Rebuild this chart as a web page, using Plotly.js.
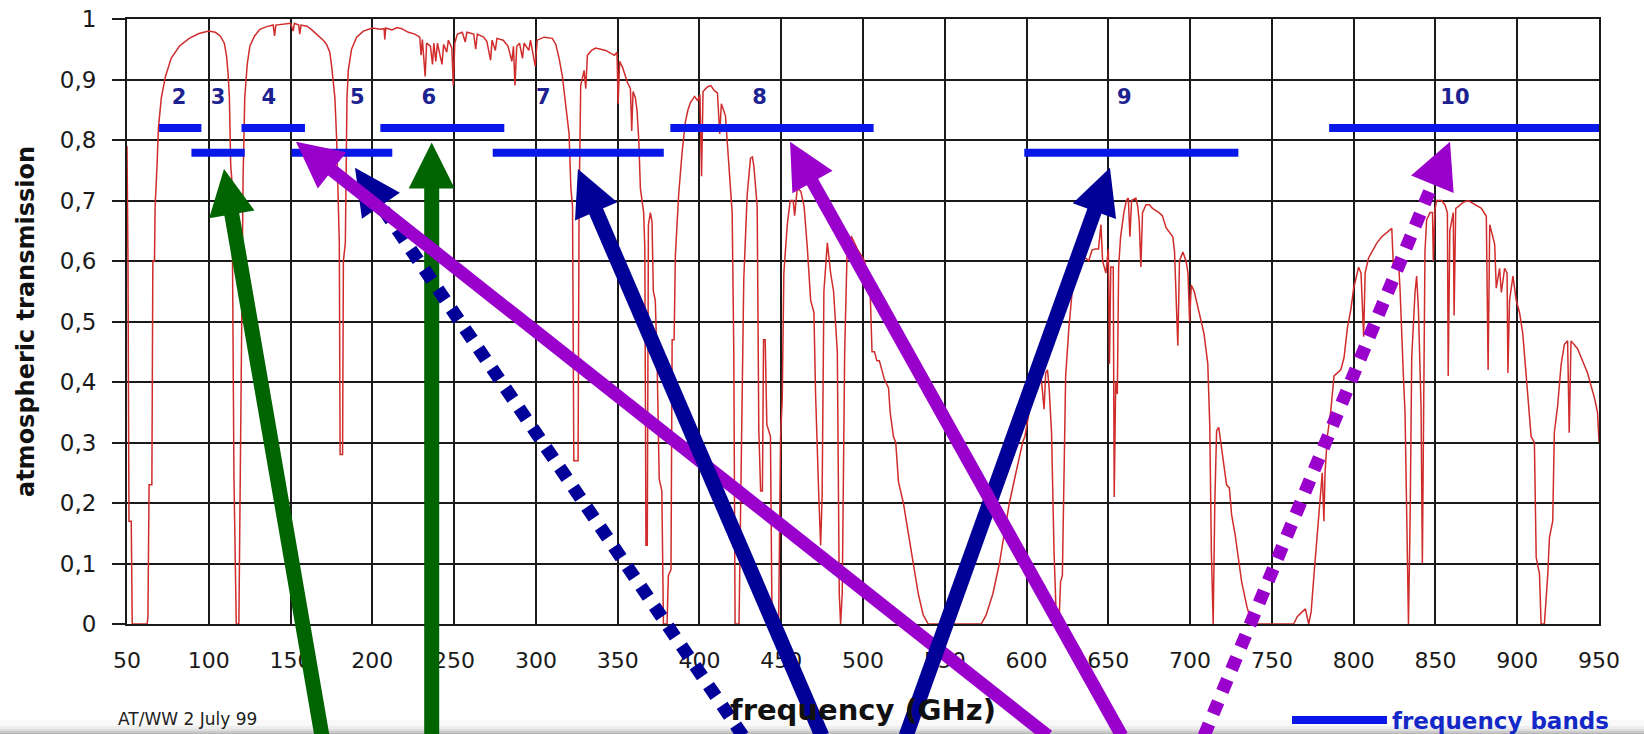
<!DOCTYPE html>
<html>
<head>
<meta charset="utf-8">
<script src="https://cdn.plot.ly/plotly-3.0.1.min.js"></script>
<style>
html,body{margin:0;padding:0;background:#fff;}
#chart{width:1644px;height:734px;}
</style>
</head>
<body>
<div id="chart"></div>
<script>
// ---------------- DATA ----------------
// Atmospheric transmission spectrum, [frequency GHz, transmission]
const spectrum50to200 = [
  [50,0.79],[50.6,0.60],[51.2,0.17],[52.6,0.17],[53.2,0.0],[62.3,0.0],[62.8,0.012],[63.5,0.23],[65.2,0.23],[65.8,0.60],
  [66.8,0.60],[67.2,0.69],[68.4,0.76],[69.2,0.82],[71,0.87],[73.5,0.905],[77,0.935],[82,0.955],[88,0.968],[94,0.976],
  [100,0.98],[104,0.978],[107,0.972],[109.5,0.96],[110.8,0.94],[111.8,0.91],[112.6,0.87],[113.4,0.76],[114.2,0.73],[115.4,0.24],
  [116.4,0.07],[116.8,0.0],[118.4,0.0],[119.2,0.25],[120.2,0.6],[121,0.74],[122,0.87],[123.5,0.925],[125.1,0.955],[128,0.972],
  [131.2,0.983],[135,0.987],[139.4,0.99],[140.2,0.972],[141,0.99],[146,0.992],[150,0.993],[151.6,0.98],[152.4,0.993],[155,0.99],
  [155.6,0.975],[156.4,0.99],[160,0.988],[163,0.982],[166,0.975],[168,0.97],[170,0.965],[172,0.958],[174,0.945],[175.2,0.92],
  [176.2,0.89],[177.1,0.87],[178.2,0.8],[179.2,0.68],[179.8,0.63],[180.3,0.28],[181.8,0.28],[182.3,0.6],[183.5,0.63],[184.5,0.87],
  [185.3,0.915],[187.3,0.95],[190.4,0.97],[194.5,0.98]
];
const spectrum200to350 = [
  [200,0.985],[205,0.983],[207.2,0.984],[207.6,0.966],[208.2,0.985],[212,0.982],[215,0.986],[218,0.984],[222,0.978],[226,0.975],
  [229,0.97],[229.8,0.94],[230.6,0.966],[232.3,0.905],[233.2,0.96],[235.5,0.955],[236.8,0.925],[237.6,0.96],[238.8,0.93],[239.8,0.96],
  [241.5,0.94],[242.6,0.925],[243.6,0.958],[245.5,0.945],[246.5,0.965],[248.6,0.952],[249.5,0.89],[250.4,0.96],[252,0.975],[255,0.978],
  [256.8,0.962],[257.8,0.978],[262,0.975],[263.2,0.95],[264.2,0.975],[268,0.97],[270,0.963],[272.3,0.932],[273.2,0.965],[275.2,0.948],
  [276.2,0.968],[280,0.965],[283,0.955],[285.3,0.93],[286.3,0.955],[287.2,0.89],[288.3,0.955],[290,0.96],[291.8,0.935],[292.8,0.96],
  [295.7,0.948],[296.7,0.965],[299.6,0.922],[300.8,0.965],[305,0.97],[310,0.968],[312.2,0.958],[314.2,0.935],[316.2,0.905],[318.3,0.86],
  [319.4,0.83],[320.3,0.81],[321.4,0.72],[322.4,0.69],[323.2,0.27],[325.8,0.27],[326.4,0.69],[327.4,0.89],[329.5,0.915],[330.5,0.885],
  [331.5,0.94],[334,0.948],[336.6,0.952],[342.7,0.948],[348,0.94]
];
const spectrum350to500 = [
  [349.6,0.945],[350.3,0.86],[351.2,0.93],[353,0.92],[354.7,0.905],[356,0.895],[357.8,0.885],[358.6,0.815],[359.4,0.88],[360.8,0.87],
  [361.8,0.85],[362.9,0.80],[363.9,0.72],[365,0.70],[365.9,0.68],[366.6,0.62],[367.3,0.13],[368.1,0.13],[368.8,0.66],[370,0.68],
  [371,0.665],[371.8,0.55],[373,0.535],[374.2,0.42],[375.4,0.24],[377,0.22],[378,0.0],[380.2,0.0],[381,0.08],[382.6,0.09],
  [383.3,0.47],[384.5,0.47],[385.3,0.61],[387.3,0.71],[389.4,0.78],[391.4,0.83],[393,0.85],[394.5,0.862],[397,0.872],[399,0.865],
  [400.3,0.875],[401.3,0.74],[402.2,0.88],[405,0.888],[407,0.89],[409,0.882],[411,0.878],[412.4,0.81],[413.4,0.86],[415.9,0.84],
  [418,0.76],[420,0.68],[421,0.45],[421.8,0.0],[424.2,0.0],[425.8,0.35],[427.1,0.57],[429.2,0.71],[431.2,0.77],[432.4,0.772],
  [433.3,0.756],[435.3,0.69],[436.3,0.32],[437.4,0.22],[438.5,0.22],[439.2,0.47],[440.2,0.47],[441.2,0.33],[443.4,0.31],[444.4,0.0],
  [448.4,0.0],[449.6,0.31],[450.6,0.37],[451.6,0.58],[453.7,0.66],[455.5,0.70],[457.3,0.70],[458.2,0.675],[459.8,0.72],[462,0.715],
  [464,0.69],[466,0.62],[468,0.535],[470,0.515],[471,0.38],[473,0.21],[474.1,0.13],[475,0.21],[476.1,0.55],[478.2,0.63],
  [480.2,0.58],[482,0.55],[484.3,0.45],[485.5,0.05],[486.3,0.0],[487.3,0.05],[488.8,0.45],[490.4,0.63],[493,0.64]
];
const spectrum500to650 = [
  [496.5,0.62],[499,0.61],[501,0.6],[503,0.57],[504.5,0.54],[505.5,0.45],[507,0.45],[508.5,0.435],[510,0.435],[511.5,0.42],
  [513,0.405],[515.6,0.39],[516.6,0.35],[518.6,0.31],[520,0.3],[521.7,0.235],[523.5,0.215],[524.7,0.2],[526.5,0.17],[528,0.145],
  [530.8,0.1],[533.8,0.05],[536.8,0.015],[539.9,0.0],[572.3,0.0],[575.3,0.015],[579.4,0.05],[583.4,0.1],[586.4,0.15],[589.5,0.2],
  [593.5,0.25],[595.5,0.272],[597.6,0.3],[599,0.31],[601.6,0.35],[603.5,0.38],[605.7,0.40],[607.5,0.41],[608.7,0.415],[609.7,0.385],
  [610.7,0.355],[611.7,0.415],[612.8,0.42],[613.8,0.39],[615.3,0.315],[616.8,0.12],[618.3,0.0],[619.8,0.0],[620.8,0.07],[621.9,0.08],
  [622.9,0.25],[623.9,0.41],[625.9,0.49],[627.9,0.55],[630,0.575],[632,0.585],[634,0.6],[636,0.605],[638,0.6],[640,0.618],
  [642.1,0.62],[644,0.62],[645.5,0.66],[646.5,0.6],[648.5,0.58],[650,0.62]
];
const spectrum650to800 = [
  [650.7,0.43],[651.5,0.59],[653,0.59],[653.6,0.21],[654.5,0.4],[655.5,0.38],[656.3,0.59],[657.5,0.64],[659.5,0.68],[661,0.70],
  [662.2,0.704],[663.2,0.64],[664.2,0.70],[666.8,0.704],[668,0.69],[668.9,0.665],[669.9,0.59],[670.9,0.68],[673,0.693],[675,0.693],
  [677,0.687],[681,0.68],[683,0.675],[685.3,0.655],[689.4,0.64],[690.5,0.615],[691.5,0.535],[692.5,0.46],[693.5,0.60],[695.6,0.615],
  [697.5,0.60],[698.7,0.58],[699.7,0.50],[700.7,0.56],[702.5,0.55],[705.9,0.51],[708.5,0.48],[710.8,0.43],[712,0.33],[713,0.12],
  [714.1,0.0],[715.1,0.2],[716.2,0.32],[717.5,0.325],[719.2,0.29],[722.3,0.23],[724,0.225],[725.4,0.18],[727.4,0.15],[729.5,0.11],
  [731.5,0.07],[734.6,0.03],[737.7,0.0],[763.3,0.0],[765.5,0.012],[768.5,0.02],[770.5,0.025],[772.5,0.0],[774,0.02],[775.7,0.08],
  [777.7,0.15],[779.8,0.21],[780.8,0.25],[781.8,0.17],[782.5,0.25],[783.9,0.31],[785.9,0.35],[788,0.41],[790,0.415],[792.1,0.42],
  [794.1,0.44],[796.2,0.49],[798.3,0.52]
];
const spectrum800to950 = [
  [800,0.555],[803,0.59],[804.5,0.58],[806.1,0.475],[807,0.58],[809.1,0.605],[811.2,0.615],[814.2,0.63],[817.2,0.64],[821.3,0.65],
  [823.3,0.654],[824.3,0.59],[826,0.6],[827.4,0.602],[828.4,0.55],[830.4,0.41],[831.4,0.35],[832.5,0.17],[833.5,0.0],[834.5,0.17],
  [835.5,0.44],[837.5,0.548],[838.5,0.575],[839.6,0.52],[841.2,0.36],[842,0.10],[842.6,0.36],[843.6,0.615],[844.6,0.668],[846.7,0.68],
  [848.2,0.68],[848.7,0.60],[849.7,0.685],[850.7,0.70],[853.8,0.70],[855.8,0.693],[857.3,0.68],[857.8,0.41],[858.8,0.65],[860.9,0.68],
  [861.4,0.51],[862.4,0.687],[863.9,0.69],[866.9,0.697],[870,0.70],[874,0.693],[878.1,0.687],[881.1,0.674],[882.2,0.42],[883.2,0.66],
  [886.2,0.628],[887.2,0.555],[889.2,0.588],[890.3,0.548],[892.3,0.588],[893.8,0.58],[894.3,0.415],[895.3,0.535],[897.4,0.575],[899.4,0.535],
  [901.4,0.515],[903.4,0.48],[905.5,0.415],[907.5,0.35],[908.5,0.31],[910.5,0.30],[911.6,0.11],[913.6,0.083],[914.6,0.0],[916.6,0.0],
  [918.7,0.083],[919.7,0.143],[921.7,0.17],[922.7,0.317],[924.7,0.36],[926.8,0.428],[928.8,0.462],[930.8,0.468],[931.8,0.316],[932.9,0.468],
  [934.9,0.462],[936.9,0.455],[939.9,0.435],[943,0.415],[945,0.395],[947.1,0.375],[949.1,0.35],[950,0.30]
];

// Receiver bands (GHz)
const bandNames      = ['2', '3', '4', '5', '6', '7', '8', '9', '10'];
const bandStartGHz   = [69.6, 89.4, 120, 150.6, 204.9, 273.6, 382.2, 598.6, 785];
const bandEndGHz     = [95.5, 122, 158.8, 212.2, 280.7, 378.2, 506.5, 729.5, 951];
const bandLevel      = [0.82, 0.779, 0.82, 0.779, 0.82, 0.779, 0.82, 0.779, 0.82];
const bandLabelGHz   = [81.8, 105.7, 136.7, 190.8, 234.6, 304.5, 436.7, 659.7, 861.9];
const bandLabelLevel = [0.868, 0.868, 0.868, 0.868, 0.868, 0.868, 0.868, 0.868, 0.868];

// Overlaid pointer arrows (tip and tail, in GHz / transmission units)
const arrowTipGHz    = [109.3, 236.3, 189.4, 153.3, 325.7, 651.0, 455.4, 858.9];
const arrowTipTrans  = [0.752, 0.796, 0.754, 0.797, 0.752, 0.754, 0.797, 0.797];
const arrowTailGHz   = [169.2, 236.3, 426.6, 613.1, 474.9, 526.3, 658.3, 708.5];
const arrowTailTrans = [-0.185, -0.185, -0.185, -0.185, -0.185, -0.185, -0.185, -0.185];
const arrowKind      = ['green', 'green', 'navyDot', 'purple', 'navy', 'navy', 'purple', 'purpleDot'];

const xTickStep = 50;
const yTickStep = 0.1;

// ---------------- STYLE / GEOMETRY ----------------
const PAGE = {w: 1644, h: 734};
const M = {l: 127, r: 45, t: 19, b: 110};
const plotW = PAGE.w - M.l - M.r;
const plotH = PAGE.h - M.t - M.b;
const X_RANGE = [50, 950];
const Y_RANGE = [0, 1];
const ARROW_STYLE = {
  green:     {color: '#006400', width: 15, dash: 'solid'},
  navy:      {color: '#000099', width: 15, dash: 'solid'},
  purple:    {color: '#9900cc', width: 13, dash: 'solid'},
  navyDot:   {color: '#000099', width: 13, dash: '13px,11px'},
  purpleDot: {color: '#9900cc', width: 13, dash: '13px,11px'}
};
const HEAD_LEN = 46, HEAD_W = 46;
const BAND_COLOR = '#0818e8';
const CURVE_COLOR = '#d02c2c';
const FONT = 'DejaVu Sans, Liberation Sans, Arial, sans-serif';

function dataToPx(f, t) {
  return [M.l + (f - X_RANGE[0]) / (X_RANGE[1] - X_RANGE[0]) * plotW,
          M.t + (Y_RANGE[1] - t) / (Y_RANGE[1] - Y_RANGE[0]) * plotH];
}
function pxToPaper(px, py) {
  return [(px - M.l) / plotW, (M.t + plotH - py) / plotH];
}

// ---------------- TRACES ----------------
const spectrum = [].concat(spectrum50to200, spectrum200to350, spectrum350to500,
                           spectrum500to650, spectrum650to800, spectrum800to950);
const freq = spectrum.map(p => p[0]);
const trans = spectrum.map(p => p[1]);

const traces = [{
  type: 'scatter', mode: 'lines', x: freq, y: trans,
  name: 'atmospheric transmission', showlegend: false, hoverinfo: 'x+y',
  line: {color: CURVE_COLOR, width: 1.5}
}];

bandNames.forEach((b, i) => {
  traces.push({
    type: 'scatter', mode: 'lines',
    x: [bandStartGHz[i], bandEndGHz[i]], y: [bandLevel[i], bandLevel[i]],
    name: 'frequency bands', legendgroup: 'bands', showlegend: i === 0,
    line: {color: BAND_COLOR, width: 8}, hoverinfo: 'name'
  });
});

traces.push({
  type: 'scatter', mode: 'text', x: bandLabelGHz, y: bandLabelLevel, text: bandNames,
  textfont: {family: FONT, size: 21, color: '#1c2390', weight: 'bold'},
  showlegend: false, hoverinfo: 'skip', cliponaxis: false
});

// ---------------- SHAPES ----------------
const shapes = [];
// bottom page shadow
const shadowBands = [[720, 726, 0.03], [726, 729, 0.09], [729, 731, 0.17], [731, 733, 0.27], [733, 734, 0.38]];
shadowBands.forEach(s => {
  const a = pxToPaper(0, s[0]), b = pxToPaper(PAGE.w, s[1]);
  shapes.push({type: 'rect', xref: 'paper', yref: 'paper', x0: a[0], x1: b[0], y0: a[1], y1: b[1],
               fillcolor: 'rgba(60,60,60,' + s[2] + ')', line: {width: 0}, layer: 'below'});
});

// arrows
arrowTipGHz.forEach((_, i) => {
  const st = ARROW_STYLE[arrowKind[i]];
  const [tx, ty] = dataToPx(arrowTipGHz[i], arrowTipTrans[i]);
  const [qx, qy] = dataToPx(arrowTailGHz[i], arrowTailTrans[i]);
  const dx = tx - qx, dy = ty - qy, len = Math.hypot(dx, dy);
  const ux = dx / len, uy = dy / len, nx = -uy, ny = ux;
  const bx = tx - ux * HEAD_LEN, by = ty - uy * HEAD_LEN;
  const overlap = st.dash === 'solid' ? 3 : 0;
  const p0 = pxToPaper(qx, qy), p1 = pxToPaper(bx + ux * overlap, by + uy * overlap);
  shapes.push({type: 'line', xref: 'paper', yref: 'paper', x0: p0[0], y0: p0[1], x1: p1[0], y1: p1[1],
               line: {color: st.color, width: st.width, dash: st.dash}, layer: 'above'});
  const tp = pxToPaper(tx, ty);
  const c1 = pxToPaper(bx + nx * HEAD_W / 2, by + ny * HEAD_W / 2);
  const c2 = pxToPaper(bx - nx * HEAD_W / 2, by - ny * HEAD_W / 2);
  shapes.push({type: 'path', xref: 'paper', yref: 'paper',
               path: 'M' + tp[0] + ',' + tp[1] + ' L' + c1[0] + ',' + c1[1] + ' L' + c2[0] + ',' + c2[1] + ' Z',
               fillcolor: st.color, line: {width: 0}, layer: 'above'});
});

// legend bar extension (the legend's own line sample is short)
{
  const a = pxToPaper(1292, 720), b = pxToPaper(1350, 720);
  shapes.push({type: 'line', xref: 'paper', yref: 'paper', x0: a[0], y0: a[1], x1: b[0], y1: b[1],
               line: {color: BAND_COLOR, width: 8}, layer: 'above'});
}

const legendPos = pxToPaper(1332, 720);
const creditPos = pxToPaper(116, 719);

const layout = {
  width: PAGE.w, height: PAGE.h,
  margin: {l: M.l, r: M.r, t: M.t, b: M.b, pad: 0, autoexpand: false},
  paper_bgcolor: '#ffffff', plot_bgcolor: '#ffffff',
  separators: ',.',
  font: {family: FONT, color: '#111'},
  showlegend: true,
  legend: {x: legendPos[0], y: legendPos[1], xanchor: 'left', yanchor: 'middle',
           bgcolor: 'rgba(0,0,0,0)', borderwidth: 0, itemwidth: 50,
           font: {family: FONT, size: 23, color: '#1428c8', weight: 'bold'}},
  xaxis: {
    range: X_RANGE, tick0: 50, dtick: xTickStep, showgrid: true, gridcolor: '#1a1a1a', gridwidth: 2,
    zeroline: false, showline: true, mirror: true, linecolor: '#1a1a1a', linewidth: 2,
    ticks: '', ticklabelstandoff: 16,
    tickfont: {family: FONT, size: 22, color: '#1a1a1a'},
    title: {text: 'frequency (GHz)', standoff: 27, font: {family: FONT, size: 29, color: '#111', weight: 'bold'}}
  },
  yaxis: {
    range: Y_RANGE, tick0: 0, dtick: yTickStep, showgrid: true, gridcolor: '#1a1a1a', gridwidth: 2,
    zeroline: false, showline: true, mirror: true, linecolor: '#1a1a1a', linewidth: 2,
    ticks: 'outside', ticklen: 13, tickwidth: 2, tickcolor: '#1a1a1a', ticklabelstandoff: 11,
    tickfont: {family: FONT, size: 23, color: '#1a1a1a'},
    title: {text: 'atmospheric transmission', standoff: 18, font: {family: FONT, size: 24, color: '#111', weight: 'bold'}}
  },
  shapes: shapes,
  annotations: [{
    xref: 'paper', yref: 'paper', x: creditPos[0], y: creditPos[1], xanchor: 'left', yanchor: 'middle',
    text: 'AT/WW 2 July 99', showarrow: false, font: {family: FONT, size: 17, color: '#222'}
  }]
};

Plotly.newPlot('chart', traces, layout, {displayModeBar: false, staticPlot: true});
</script>
</body>
</html>
